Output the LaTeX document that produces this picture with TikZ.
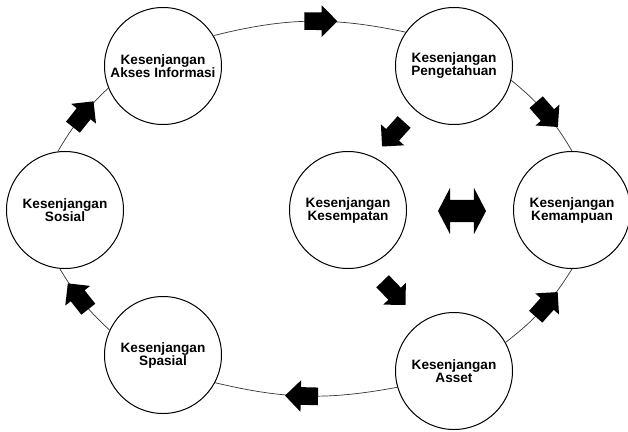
\documentclass[tikz,border=0pt]{standalone}
\usepackage{fontspec}
\setmainfont{Liberation Sans}
\usetikzlibrary{arrows.meta,positioning,shapes.arrows}

\begin{document}
\begin{tikzpicture}[x=1pt, y=-1pt,
  gap/.style={draw, circle, line width=1pt, minimum size=117pt, inner sep=0pt, align=center, fill=white, font=\fontsize{13.6}{13}\selectfont\bfseries},
  blk/.style={single arrow, fill=black, draw=none, inner xsep=0pt, inner ysep=8.5pt, single arrow head extend=7pt, minimum height=33pt, sloped, allow upside down},
  dbl/.style={double arrow, fill=black, draw=none, inner xsep=0pt, inner ysep=11pt, double arrow head extend=12pt, double arrow tip angle=125, minimum height=48pt},
  link/.style={line width=0.7pt, black!80}
]
  \useasboundingbox (0,0) rectangle (628,431);

  % the gaps, clockwise from top left
  \node[gap] (k1) at (163,66) {Kesenjangan\\Akses Informasi};
  \node[gap] (k2) at (454,66) {Kesenjangan\\Pengetahuan};
  \node[gap] (k3) at (572,210) {Kesenjangan\\Kemampuan};
  \node[gap] (k4) at (454,371) {Kesenjangan\\Asset};
  \node[gap] (k5) at (163,355) {Kesenjangan\\Spasial};
  \node[gap] (k6) at (65,210) {Kesenjangan\\Sosial};
  \node[gap] (k7) at (348,210) {Kesenjangan\\Kesempatan};

  % outer ring
  \draw[link] (k6.97) to[bend left=8] node[blk, pos=.5] (a1) {} (k1.202);
  \draw[link] (k1.31) to[bend left=13] node[blk, pos=.54] (a2) {} (k2.145);
  \draw[link] (k2.346) to[bend left=10] node[blk, pos=.48] (a3) {} (k3.90);
  \draw[link] (k4.29) to[bend right=10] node[blk, pos=.52] (a4) {} (k3.270);
  \draw[link] (k4.196) to[bend left=12] node[blk, pos=.5] (a5) {} (k5.332);
  \draw[link] (k5.155) to[bend left=8] node[blk, pos=.53] (a6) {} (k6.265);

  % inner arrows
  \node[blk, rotate=228] (a7) at (396,131) {};
  \node[blk, rotate=-46] (a8) at (391,290) {};
  \node[dbl] (a9) at (462,211) {};
\end{tikzpicture}
\end{document}
